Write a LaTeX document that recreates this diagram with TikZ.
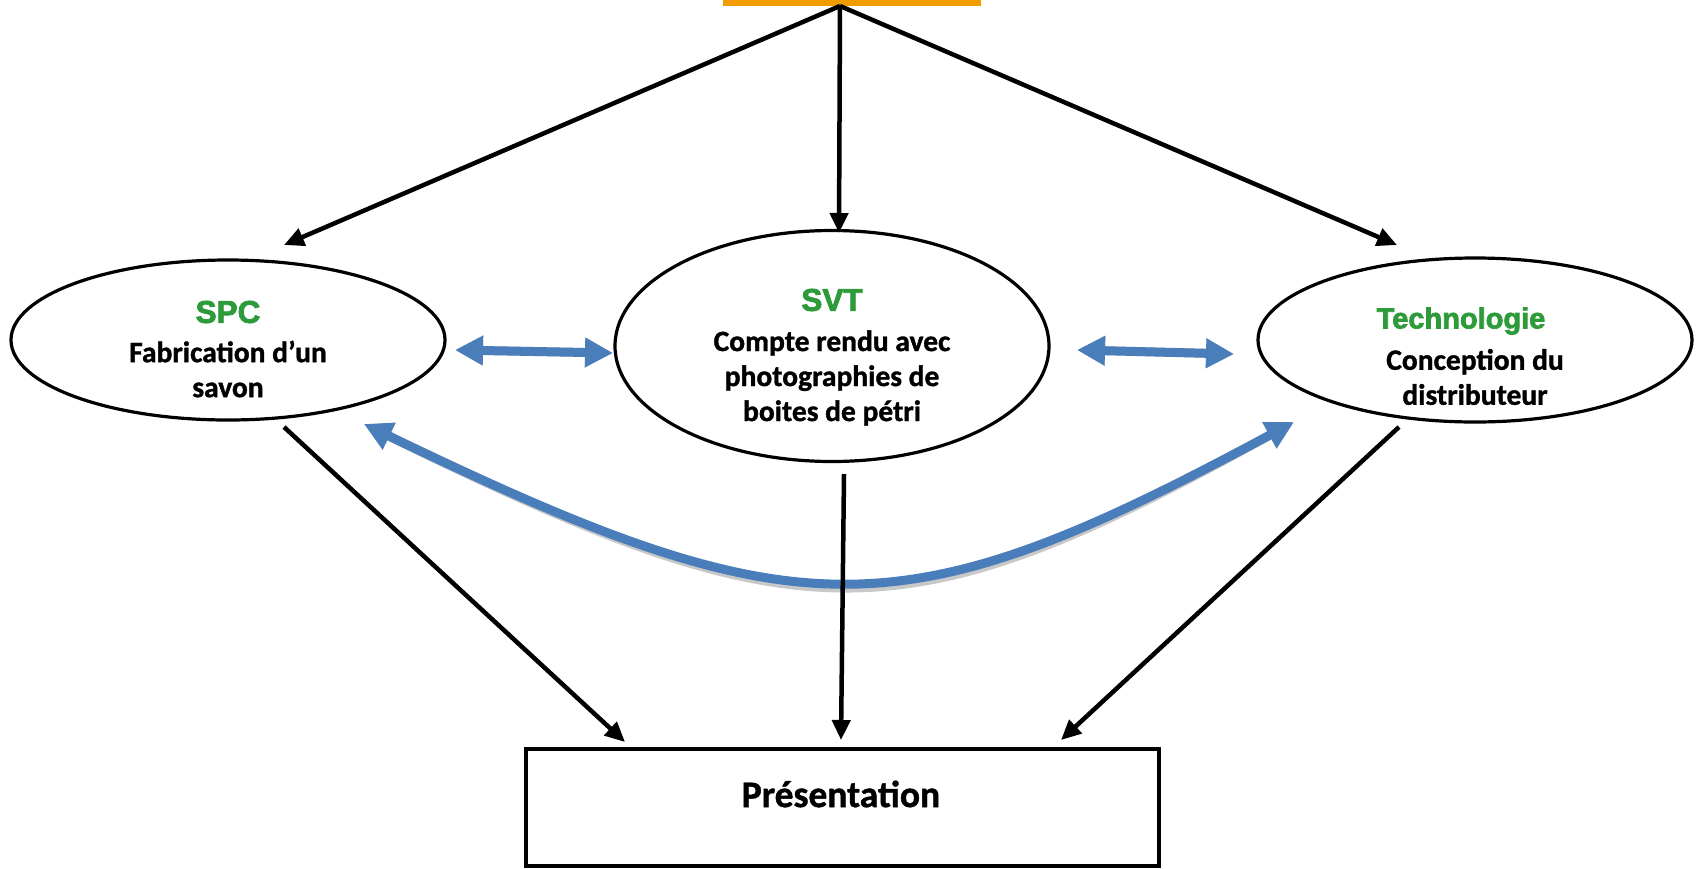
\documentclass[tikz,border=0pt]{standalone}
\usepackage{fontspec}
\setmainfont{Carlito}[BoldFeatures={FakeBold=1.2}]
\newfontfamily\headfont{Liberation Sans}[BoldFeatures={FakeBold=2.5}]
\usetikzlibrary{arrows.meta,shapes.geometric}
\definecolor{hgreen}{RGB}{46,155,58}
\definecolor{barorange}{RGB}{243,156,0}
\definecolor{arrblue}{RGB}{74,126,187}
\definecolor{shadowgray}{RGB}{200,200,200}
\begin{document}
\begin{tikzpicture}[x=1pt,y=-1pt,
  ell/.style={draw,ellipse,line width=3.2pt,inner sep=0pt,minimum width=434pt},
  txt/.style={align=center,inner sep=0pt,font=\bfseries\fontsize{29.5}{35}\selectfont},
  head/.style={font=\headfont\bfseries\fontsize{31.5}{35}\selectfont,text=hgreen,inner sep=0pt},
  blk/.style={line width=4.5pt,-{Triangle[length=20pt,width=18pt]}},
  blu/.style={line width=9pt,arrblue,{Triangle[length=28pt,width=28pt]}-{Triangle[length=28pt,width=28pt]}},
  shd/.style={line width=9pt,shadowgray,{Triangle[length=28pt,width=28pt]}-{Triangle[length=28pt,width=28pt]}}
]
\useasboundingbox (0,0) rectangle (1698,868);

% top orange bar
\node[fill=barorange,inner sep=0pt,minimum width=258pt,minimum height=12pt] (bar) at (852,0) {};
\coordinate (top) at (840,6);

% ellipses
\node[ell,minimum height=160pt] (spc) at (228,340) {};
\node[ell,minimum height=231pt] (svt) at (832,346) {};
\node[ell,minimum height=164pt] (tech) at (1475,340) {};

% texts
\node[head] (spcH) at (228,312) {SPC};
\node[txt] (spcT) at (228,369) {Fabrication d’un\\savon};
\node[head] (svtH) at (832,300) {SVT};
\node[txt] (svtT) at (832,378) {Compte rendu avec\\photographies de\\boites de pétri};
\node[head,font=\headfont\bfseries\fontsize{29}{35}\selectfont] (techH) at (1461,321) {Technologie};
\node[txt] (techT) at (1475,377) {Conception du\\distributeur};

% bottom box
\node[draw,line width=4pt,inner sep=0pt,minimum width=633pt,minimum height=117pt] (pres) at (842.5,807.5) {};
\node[inner sep=0pt,font=\bfseries\fontsize{37.5}{44}\selectfont] (presT) at (841,794) {Présentation};

% coordinates
\coordinate (tl) at (284,245);
\coordinate (tm) at (839,233);
\coordinate (tr) at (1397,245);
\coordinate (bl0) at (284,427);
\coordinate (bl1) at (625,742);
\coordinate (bm0) at (844,474);
\coordinate (bm1) at (841,740);
\coordinate (br0) at (1399,427);
\coordinate (br1) at (1061,740);
\coordinate (d1a) at (455,350);
\coordinate (d1b) at (613,353);
\coordinate (d2a) at (1077,350);
\coordinate (d2b) at (1234,354);
\coordinate (ca) at (364,424);
\coordinate (cb) at (1294,422);

% black arrows
\draw[blk] (top) -- (tl);
\draw[blk] (top) -- (tm);
\draw[blk] (top) -- (tr);
\draw[blk] (bl0) -- (bl1);
\draw[blk] (br0) -- (br1);

% blue arrows with shadow
\begin{scope}[shift={(2,5)}]
\draw[shd] (d1a) -- (d1b);
\draw[shd] (d2a) -- (d2b);
\draw[shd] (ca) .. controls (800,634) and (900,634) .. (cb);
\end{scope}
\draw[blu] (d1a) -- (d1b);
\draw[blu] (d2a) -- (d2b);
\draw[blu] (ca) .. controls (800,634) and (900,634) .. (cb);
\draw[blk] (bm0) -- (bm1);
\end{tikzpicture}
\end{document}
